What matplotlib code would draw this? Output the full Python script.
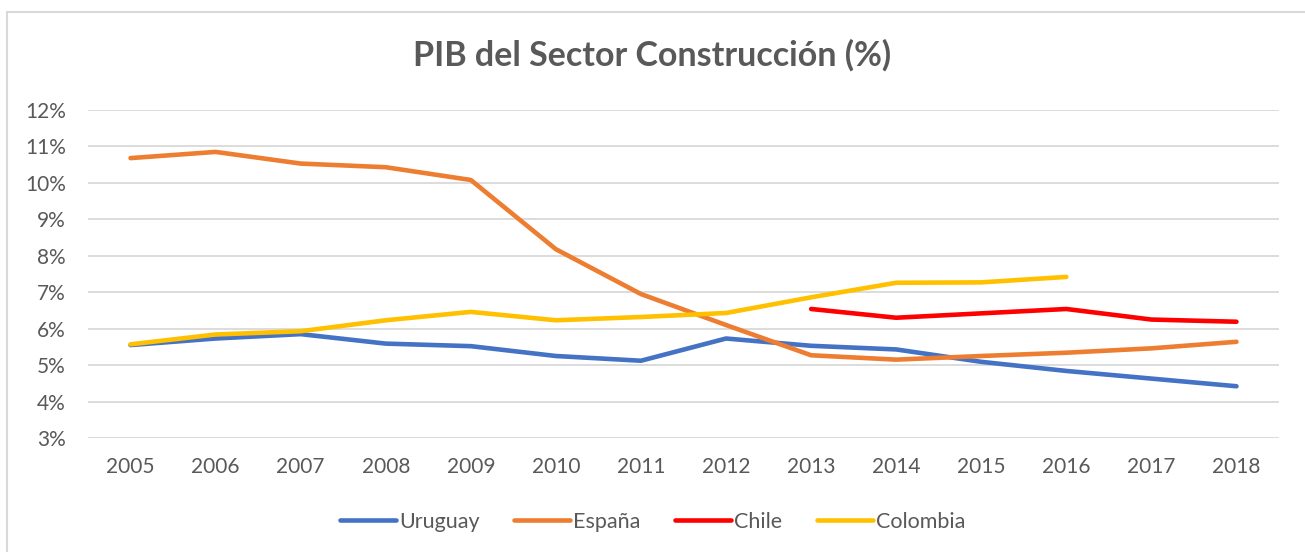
import matplotlib.pyplot as plt
import numpy as np
from matplotlib.patches import Rectangle
from matplotlib.ticker import FuncFormatter

plt.rcParams['font.family'] = ['Lato', 'DejaVu Sans']

years = list(range(2005, 2019))

# valores en %
uruguay = [5.55, 5.73, 5.85, 5.59, 5.52, 5.25, 5.12, 5.73, 5.53, 5.43, 5.09, 4.84, 4.63, 4.42]
espana = [10.68, 10.85, 10.53, 10.43, 10.08, 8.18, 6.95, 6.10, 5.27, 5.15, 5.25, 5.34, 5.46, 5.64]
chile = [np.nan] * 8 + [6.54, 6.30, 6.42, 6.54, 6.25, 6.19]
colombia = [5.57, 5.84, 5.93, 6.23, 6.46, 6.23, 6.32, 6.43, 6.86, 7.26, 7.27, 7.42, np.nan, np.nan]

series = [("Uruguay", uruguay, "#4472C4"),
          ("España", espana, "#ED7D31"),
          ("Chile", chile, "#FF0000"),
          ("Colombia", colombia, "#FFC000")]

txt = "#595959"

fig = plt.figure(figsize=(13.05, 5.52), dpi=100)
ax = fig.add_axes([88 / 1305, 1 - 438 / 552, (1279 - 88) / 1305, (438 - 110) / 552])

x = np.arange(len(years))
for name, vals, col in series:
    ax.plot(x, vals, color=col, lw=3.3, label=name, solid_capstyle='round', solid_joinstyle='round')

ax.set_xlim(-0.5, len(years) - 0.5)
ax.set_ylim(3, 12)
ax.set_yticks(range(3, 13))
ax.yaxis.set_major_formatter(FuncFormatter(lambda v, p: f"{int(v)}%"))
ax.set_xticks(x)
ax.set_xticklabels([str(y) for y in years])
ax.grid(axis='y', color='#D9D9D9', lw=1.3)
ax.set_axisbelow(True)
for s in ax.spines.values():
    s.set_visible(False)
ax.tick_params(length=0, labelsize=15, labelcolor=txt)
ax.tick_params(axis='x', pad=14)
ax.tick_params(axis='y', pad=16)

fig.text(0.5, 1 - 55 / 552, "PIB del Sector Construcción (%)", ha='center', va='center',
         fontsize=24.5, fontweight='bold', color=txt)

fig.legend(loc='center', bbox_to_anchor=(0.5, 1 - 522 / 552), ncol=4, frameon=False,
           fontsize=15.5, labelcolor=txt, handlelength=2.6, handletextpad=0.15, columnspacing=1.6)

fig.patches.append(Rectangle((7 / 1305, -0.05), 1.1, 1 - 12 / 552 + 0.05, transform=fig.transFigure,
                             fill=False, edgecolor='#D9D9D9', lw=1.5))

fig.savefig("out.png", dpi=100)
